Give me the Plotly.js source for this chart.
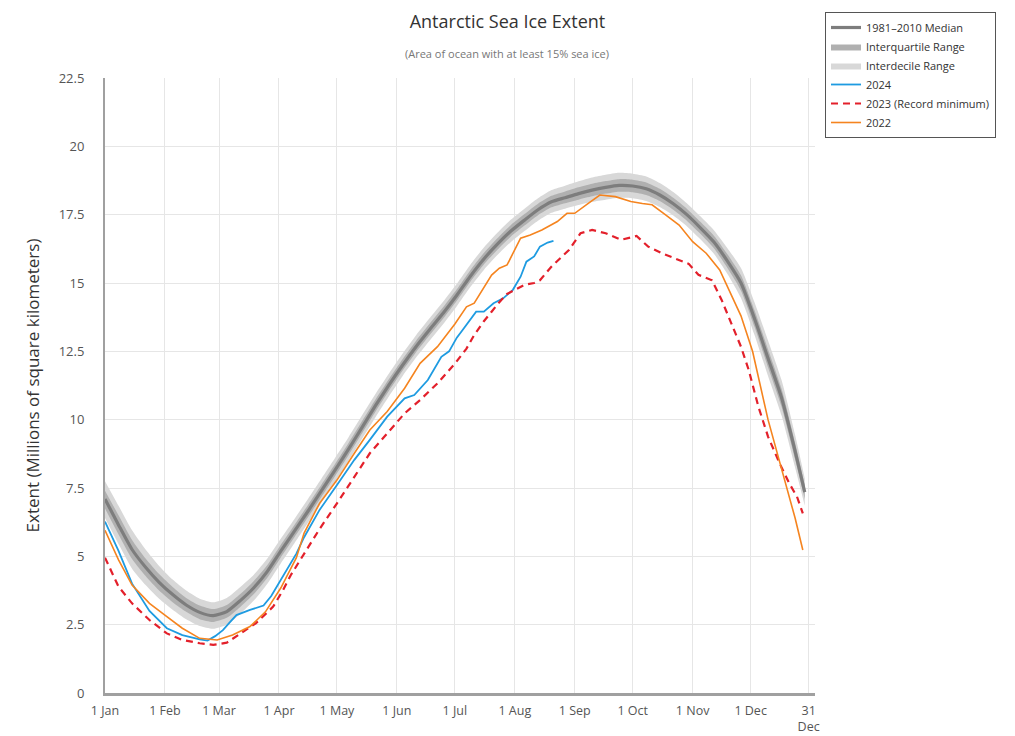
<!DOCTYPE html>
<html>
<head>
<meta charset="utf-8">
<script src="https://cdn.plot.ly/plotly-3.0.1.min.js"></script>
<style>
  html, body { margin: 0; padding: 0; background: #fff; }
  #chart { width: 1015px; height: 736px; }
</style>
</head>
<body>
<div id="chart"></div>
<script>
// ---- Climatology (1981-2010), day of year ----
const climDays = [1, 8, 15, 22, 29, 36, 43, 50, 57, 64, 71, 78, 85, 92, 99, 106, 113, 120, 127, 134, 141, 148, 155, 162, 169, 176, 183, 190, 197, 204, 211, 218, 225, 232, 239, 246, 253, 260, 267, 274, 281, 288, 295, 302, 309, 316, 323, 330, 337, 344, 351, 358, 363];
const median = [7.1, 6.15, 5.25, 4.6, 4.05, 3.6, 3.22, 2.95, 2.83, 2.98, 3.38, 3.85, 4.45, 5.2, 5.92, 6.65, 7.4, 8.15, 8.92, 9.72, 10.52, 11.28, 12.0, 12.68, 13.3, 13.9, 14.55, 15.25, 15.88, 16.42, 16.9, 17.3, 17.68, 17.97, 18.12, 18.27, 18.4, 18.5, 18.57, 18.55, 18.45, 18.22, 17.9, 17.5, 17.02, 16.5, 15.8, 15.0, 13.7, 12.25, 10.8, 8.85, 7.35];
const p10 = [6.4, 5.45, 4.55, 3.95, 3.45, 3.05, 2.7, 2.45, 2.35, 2.5, 2.9, 3.38, 4.0, 4.75, 5.48, 6.22, 6.97, 7.72, 8.5, 9.3, 10.1, 10.87, 11.6, 12.28, 12.9, 13.5, 14.15, 14.85, 15.48, 16.02, 16.5, 16.9, 17.28, 17.57, 17.72, 17.85, 17.97, 18.05, 18.12, 18.1, 18.0, 17.78, 17.47, 17.08, 16.6, 16.07, 15.33, 14.45, 13.1, 11.6, 10.15, 8.25, 6.85];
const p25 = [6.75, 5.8, 4.9, 4.28, 3.75, 3.32, 2.97, 2.7, 2.6, 2.75, 3.15, 3.62, 4.22, 4.97, 5.7, 6.43, 7.18, 7.93, 8.7, 9.5, 10.3, 11.07, 11.8, 12.48, 13.1, 13.7, 14.35, 15.05, 15.68, 16.22, 16.7, 17.1, 17.48, 17.77, 17.92, 18.05, 18.17, 18.27, 18.34, 18.32, 18.22, 18.0, 17.68, 17.28, 16.8, 16.27, 15.55, 14.72, 13.4, 11.92, 10.47, 8.55, 7.1];
const p75 = [7.4, 6.5, 5.6, 4.92, 4.35, 3.88, 3.48, 3.2, 3.07, 3.22, 3.62, 4.1, 4.68, 5.43, 6.15, 6.88, 7.63, 8.38, 9.15, 9.95, 10.75, 11.5, 12.22, 12.9, 13.52, 14.12, 14.77, 15.47, 16.1, 16.64, 17.12, 17.52, 17.9, 18.19, 18.35, 18.5, 18.63, 18.73, 18.8, 18.78, 18.68, 18.45, 18.12, 17.72, 17.24, 16.73, 16.05, 15.28, 14.0, 12.58, 11.13, 9.15, 7.6];
const p90 = [7.75, 6.85, 5.95, 5.25, 4.65, 4.15, 3.75, 3.45, 3.32, 3.48, 3.88, 4.33, 4.92, 5.65, 6.37, 7.1, 7.85, 8.6, 9.36, 10.16, 10.95, 11.7, 12.42, 13.1, 13.72, 14.32, 14.97, 15.67, 16.3, 16.84, 17.32, 17.72, 18.1, 18.4, 18.56, 18.72, 18.86, 18.96, 19.03, 19.0, 18.9, 18.66, 18.33, 17.92, 17.44, 16.93, 16.27, 15.55, 14.3, 12.9, 11.45, 9.45, 7.85];

// ---- 2024 ----
const days2024 = [1, 8, 15, 24, 33, 41, 50, 54, 58, 62, 66, 69, 76, 83, 87, 93, 97, 100, 104, 112, 121, 130, 138, 147, 156, 161, 168, 175, 179, 183, 186, 193, 197, 202, 207, 212, 216, 219, 223, 226, 230, 233];
const ext2024 = [6.27, 5.2, 4.0, 3.0, 2.37, 2.12, 1.96, 1.92, 2.08, 2.3, 2.62, 2.85, 3.04, 3.2, 3.55, 4.25, 4.75, 5.1, 5.7, 6.7, 7.61, 8.53, 9.26, 10.11, 10.78, 10.9, 11.45, 12.3, 12.5, 13.0, 13.28, 13.95, 13.95, 14.26, 14.44, 14.75, 15.23, 15.78, 15.97, 16.33, 16.48, 16.54];

// ---- 2023 (record minimum) ----
const days2023 = [1, 8, 15, 24, 33, 41, 50, 57, 64, 71, 79, 88, 93, 97, 104, 112, 121, 130, 138, 147, 156, 164, 173, 182, 188, 192, 197, 201, 205, 209, 214, 218, 223, 226, 232, 241, 247, 253, 260, 268, 276, 282, 289, 296, 303, 308, 315, 320, 325, 330, 334, 339, 344, 350, 355, 359, 362];
const ext2023 = [4.95, 3.89, 3.28, 2.67, 2.18, 1.94, 1.82, 1.76, 1.84, 2.18, 2.55, 3.16, 3.75, 4.3, 5.1, 6.0, 6.94, 7.91, 8.77, 9.5, 10.23, 10.72, 11.33, 12.05, 12.6, 13.1, 13.6, 13.95, 14.3, 14.6, 14.8, 14.93, 15.0, 15.1, 15.6, 16.21, 16.82, 16.94, 16.82, 16.58, 16.72, 16.33, 16.09, 15.9, 15.7, 15.3, 15.1, 14.38, 13.53, 12.67, 11.82, 10.48, 9.38, 8.4, 7.67, 7.18, 6.57];

// ---- 2022 ----
const days2022 = [1, 8, 15, 24, 33, 41, 50, 59, 67, 76, 84, 92, 100, 104, 112, 121, 130, 138, 147, 152, 156, 164, 173, 182, 188, 192, 201, 205, 209, 216, 221, 227, 235, 240, 244, 251, 257, 265, 273, 279, 284, 291, 298, 305, 312, 319, 324, 330, 336, 344, 351, 358, 362];
const ext2022 = [5.95, 4.87, 3.95, 3.28, 2.79, 2.37, 2.0, 1.94, 2.12, 2.43, 2.97, 3.85, 4.95, 5.85, 6.94, 7.79, 8.77, 9.62, 10.3, 10.75, 11.15, 12.06, 12.67, 13.5, 14.13, 14.26, 15.29, 15.54, 15.66, 16.64, 16.76, 16.94, 17.25, 17.55, 17.55, 17.91, 18.22, 18.16, 17.98, 17.91, 17.86, 17.49, 17.12, 16.51, 16.09, 15.48, 14.7, 13.8, 12.5, 10.0, 8.2, 6.4, 5.23];

// ---- Axis ticks ----
const tickDays = [1, 32, 60, 91, 121, 152, 182, 213, 244, 274, 305, 335, 365];
const tickLabels = ['1 Jan', '1 Feb', '1 Mar', '1 Apr', '1 May', '1 Jun', '1 Jul', '1 Aug', '1 Sep', '1 Oct', '1 Nov', '1 Dec', '31<br>Dec'];

const FONT = '"Open Sans", "DejaVu Sans", sans-serif';

const traces = [
  { x: climDays, y: p10, mode: 'lines', line: { width: 0, shape: 'spline', smoothing: 0.6 }, showlegend: false, hoverinfo: 'skip' },
  { x: climDays, y: p90, mode: 'lines', fill: 'tonexty', fillcolor: 'rgb(216,216,216)', line: { width: 0, shape: 'spline', smoothing: 0.6, color: 'rgb(216,216,216)' }, name: 'Interdecile Range', legendrank: 3 },
  { x: climDays, y: p25, mode: 'lines', line: { width: 0, shape: 'spline', smoothing: 0.6 }, showlegend: false, hoverinfo: 'skip' },
  { x: climDays, y: p75, mode: 'lines', fill: 'tonexty', fillcolor: 'rgb(176,176,176)', line: { width: 0, shape: 'spline', smoothing: 0.6, color: 'rgb(176,176,176)' }, name: 'Interquartile Range', legendrank: 2 },
  { x: climDays, y: median, mode: 'lines', line: { width: 3.2, color: 'rgb(125,125,125)', shape: 'spline', smoothing: 0.6 }, name: '1981–2010 Median', legendrank: 1 },
  { x: days2024, y: ext2024, mode: 'lines', line: { width: 1.8, color: '#1e9be1' }, name: '2024', legendrank: 4 },
  { x: days2023, y: ext2023, mode: 'lines', line: { width: 2.2, color: '#e3202b', dash: '7px,5px' }, name: '2023 (Record minimum)', legendrank: 5 },
  { x: days2022, y: ext2022, mode: 'lines', line: { width: 1.6, color: '#f5841f' }, name: '2022', legendrank: 6 }
];

const layout = {
  width: 1015, height: 736,
  margin: { l: 105, r: 200, t: 78, b: 43 },
  paper_bgcolor: '#fff', plot_bgcolor: '#fff',
  font: { family: FONT, color: '#555', size: 13 },
  title: {
    text: 'Antarctic Sea Ice Extent',
    font: { family: FONT, size: 18, color: '#333' },
    xref: 'container', x: 0.5, xanchor: 'center',
    yref: 'container', y: 1 - 22 / 736, yanchor: 'middle'
  },
  annotations: [{
    text: '(Area of ocean with at least 15% sea ice)',
    xref: 'paper', yref: 'paper', x: (507 - 105) / 710, y: (693 - 54) / 615,
    xanchor: 'center', yanchor: 'middle', showarrow: false,
    font: { family: FONT, size: 11, color: '#777' }
  }],
  xaxis: {
    range: [1, 368.3],
    tickmode: 'array', tickvals: tickDays, ticktext: tickLabels,
    showgrid: true, gridcolor: '#e6e6e6', gridwidth: 1,
    showline: true, linecolor: '#a0a0a0', linewidth: 3,
    zeroline: false, ticks: '', ticklabelstandoff: 4,
    tickfont: { family: FONT, size: 12.5, color: '#555' }
  },
  yaxis: {
    range: [0, 22.5], dtick: 2.5, tick0: 0,
    showgrid: true, gridcolor: '#e6e6e6', gridwidth: 1,
    showline: true, linecolor: '#a0a0a0', linewidth: 2,
    zeroline: false, ticks: '', ticklabelstandoff: 16,
    tickfont: { family: FONT, size: 13, color: '#555' },
    title: { text: 'Extent (Millions of square kilometers)', font: { family: FONT, size: 17, color: '#333' }, standoff: 15 }
  },
  legend: {
    x: (825 - 105) / 710, y: (693 - 12) / 615, xanchor: 'left', yanchor: 'top',
    traceorder: 'normal',
    bgcolor: '#fff', bordercolor: '#555', borderwidth: 1,
    font: { family: FONT, size: 11, color: '#333' },
    itemwidth: 30, tracegroupgap: 0
  },
  showlegend: true
};

Plotly.newPlot('chart', traces, layout, { displayModeBar: false, staticPlot: true });
</script>
</body>
</html>
